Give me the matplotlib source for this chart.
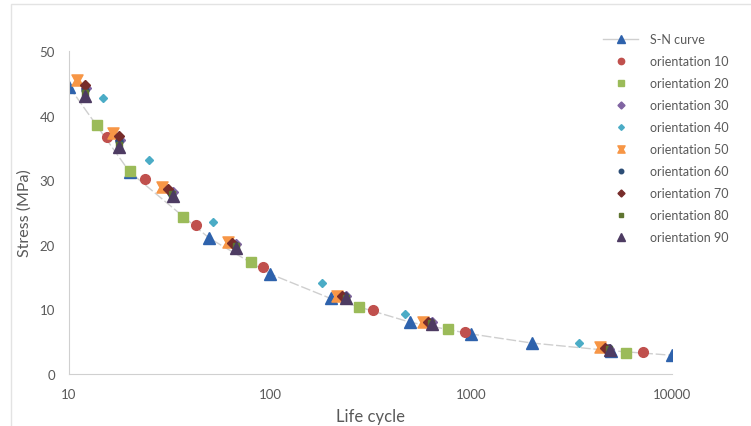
import matplotlib.pyplot as plt
from matplotlib.path import Path
from matplotlib.patches import Rectangle

plt.rcParams['font.family'] = ['Lato', 'DejaVu Sans']

# S-N curve
sn_cycles = [10, 20, 50, 100, 200, 500, 1000, 2000, 5000, 10000]
sn_stress = [44.5, 31.3, 21.0, 15.5, 11.7, 8.0, 6.2, 4.8, 3.6, 2.9]

# orientation series (cycles, stress)
o10_cycles = [15.5, 24, 43, 92, 325, 930, 7200]
o10_stress = [36.7, 30.2, 23.0, 16.6, 9.9, 6.5, 3.4]
o20_cycles = [13.8, 20, 37, 80, 277, 770, 5900]
o20_stress = [38.5, 31.5, 24.3, 17.4, 10.4, 7.0, 3.3]
o30_cycles = [12.2, 18, 33, 68, 240, 640, 4850]
o30_stress = [44.3, 36.3, 28.2, 20.2, 12.1, 8.1, 3.9]
o40_cycles = [14.8, 25, 52, 182, 470, 3450]
o40_stress = [42.7, 33.2, 23.5, 14.1, 9.3, 4.8]
o50_cycles = [11, 16.5, 29, 62, 215, 575, 4400]
o50_stress = [45.5, 37.3, 28.9, 20.4, 12.1, 8.1, 4.2]
o60_cycles = [12, 17.7, 32, 67, 235, 625, 4800]
o60_stress = [44.0, 36.0, 28.0, 20.0, 12.0, 8.0, 4.0]
o70_cycles = [12, 17.7, 31, 65, 228, 610, 4650]
o70_stress = [44.8, 36.8, 28.6, 20.3, 12.0, 8.1, 4.0]
o80_cycles = [12, 17.7, 32.5, 68, 238, 630, 4850]
o80_stress = [43.5, 35.5, 27.8, 19.8, 11.8, 7.9, 3.8]
o90_cycles = [12, 17.7, 33, 68, 240, 640, 4900]
o90_stress = [43.0, 35.1, 27.5, 19.5, 11.7, 7.7, 3.7]

x_ticks = [10, 100, 1000, 10000]
y_ticks = [0, 10, 20, 30, 40, 50]

# hourglass marker used for orientation 50
bowtie = Path([(-1, 1), (1, 1), (0.45, 0), (1, -1), (-1, -1), (-0.45, 0), (-1, 1)],
              [Path.MOVETO] + [Path.LINETO] * 5 + [Path.CLOSEPOLY])

series = [
    ("orientation 10", o10_cycles, o10_stress, "o", "#C0504D", 7),
    ("orientation 20", o20_cycles, o20_stress, "s", "#9BBB59", 6.5),
    ("orientation 30", o30_cycles, o30_stress, "D", "#8064A2", 5.5),
    ("orientation 40", o40_cycles, o40_stress, "D", "#4BACC6", 4.5),
    ("orientation 50", o50_cycles, o50_stress, bowtie, "#F79646", 8),
    ("orientation 60", o60_cycles, o60_stress, "o", "#2C4D75", 5),
    ("orientation 70", o70_cycles, o70_stress, "D", "#772C2A", 5.5),
    ("orientation 80", o80_cycles, o80_stress, "s", "#5F7530", 4.5),
    ("orientation 90", o90_cycles, o90_stress, "^", "#4D3B62", 8),
]

fig = plt.figure(figsize=(7.51, 4.27), dpi=100)
fig.patches.append(Rectangle((11 / 751, -0.1), 1.2, 1.1 - 5 / 427, transform=fig.transFigure,
                             fill=False, edgecolor="#e3e3e3", lw=1))
ax = fig.add_axes([69 / 751, 52 / 427, 603 / 751, 323 / 427])

ax.plot(sn_cycles, sn_stress, color="#cfcfcf", lw=1, dashes=(7, 2), marker="^", ms=8,
        mfc="#2E62AC", mec="#2E62AC", label="S-N curve", zorder=2)
for name, xs, ys, mk, col, ms in series:
    ax.plot(xs, ys, ls="none", marker=mk, ms=ms, color=col, mec=col, label=name, zorder=3)

ax.set_xscale("log")
ax.set_xlim(10, 10000)
ax.set_ylim(0, 50)
ax.set_xticks(x_ticks)
ax.set_xticklabels([str(t) for t in x_ticks])
ax.minorticks_off()
ax.set_yticks(y_ticks)
ax.tick_params(length=0, labelsize=9.5, colors="#595959", pad=10)
for s in ["top", "right"]:
    ax.spines[s].set_visible(False)
for s in ["left", "bottom"]:
    ax.spines[s].set_color("#d0d0d0")

ax.set_xlabel("Life cycle", fontsize=12, color="#595959", labelpad=6)
ax.set_ylabel("Stress (MPa)", fontsize=11.5, color="#595959", labelpad=6)

leg = ax.legend(loc="upper left", bbox_to_anchor=(592 / 751, 1 - 23 / 427),
                bbox_transform=fig.transFigure, frameon=False, fontsize=9,
                labelcolor="#595959", labelspacing=0.8, handlelength=2.8,
                handletextpad=0.9, markerscale=0.65)
leg.legend_handles[0].set_linestyle("-")

fig.savefig("out.png", dpi=100)
